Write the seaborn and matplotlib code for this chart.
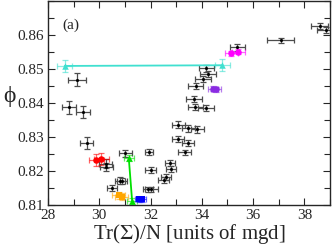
import numpy as np
import pandas as pd
import matplotlib
matplotlib.use("Agg")
import matplotlib.pyplot as plt
import seaborn as sns
from matplotlib.ticker import MultipleLocator

# black points: trace of the covariance per particle vs packing fraction
black_x = [28.82, 29.13, 29.37, 29.51, 30.25, 30.28, 30.50, 30.80, 30.89, 31.02,
           31.93, 32.00, 31.90, 32.03, 32.51, 32.59, 32.77, 32.80, 33.08, 33.48,
           33.83, 33.07, 33.46, 33.34, 33.70, 33.75, 34.16, 33.76, 34.05, 34.24,
           34.18, 35.39, 37.08, 38.60, 38.83]
black_y = [0.8387, 0.8469, 0.8374, 0.8283, 0.8222, 0.8211, 0.8149, 0.8172, 0.8170, 0.8252,
           0.8257, 0.8203, 0.8146, 0.8146, 0.8174, 0.8183, 0.8224, 0.8205, 0.8336, 0.8326,
           0.8323, 0.8294, 0.8283, 0.8255, 0.8413, 0.8387, 0.8386, 0.8450, 0.8471, 0.8485,
           0.8502, 0.8564, 0.8584, 0.8627, 0.8615]
black_xerr = [0.28, 0.35, 0.27, 0.25, 0.25, 0.25, 0.2, 0.2, 0.2, 0.25,
              0.15, 0.2, 0.2, 0.25, 0.2, 0.2, 0.2, 0.2, 0.25, 0.25,
              0.25, 0.25, 0.25, 0.25, 0.3, 0.3, 0.3, 0.3, 0.3, 0.3,
              0.3, 0.3, 0.52, 0.33, 0.33]
black_yerr = [0.0018, 0.002, 0.0017, 0.0017, 0.0012, 0.0012, 0.0009, 0.0009, 0.0009, 0.001,
              0.0009, 0.0009, 0.0008, 0.0008, 0.0009, 0.0009, 0.0009, 0.0009, 0.001, 0.001,
              0.001, 0.001, 0.0008, 0.0008, 0.0009, 0.0009, 0.0009, 0.0009, 0.0009, 0.0009,
              0.001, 0.001, 0.0007, 0.0008, 0.0008]

# coloured groups
groups = ["red", "orange", "green", "blue", "cyan", "purple", "magenta"]
group_x = {"red": [29.89, 30.08], "orange": [30.75, 30.88], "green": [31.15, 31.28],
           "blue": [31.55, 31.68], "cyan": [28.65, 34.80], "purple": [34.45, 34.55],
           "magenta": [35.15, 35.43]}
group_y = {"red": [0.8233, 0.8236], "orange": [0.8128, 0.8125], "green": [0.8239, 0.8113],
           "blue": [0.8117, 0.8117], "cyan": [0.8509, 0.8511], "purple": [0.8442, 0.8440],
           "magenta": [0.8546, 0.8551]}
group_xerr = {"red": 0.3, "orange": 0.25, "green": 0.2, "blue": 0.15, "cyan": 0.28,
              "purple": 0.2, "magenta": 0.25}
group_yerr = {"red": 0.0017, "orange": 0.001, "green": 0.0009, "blue": 0.0007,
              "cyan": 0.0017, "purple": 0.0008, "magenta": 0.0008}
colors = {"red": "#ff0000", "orange": "#ffa500", "green": "#00e000", "blue": "#0000ff",
          "cyan": "#40e0d0", "purple": "#8a2be2", "magenta": "#ff00ff"}
markers = {"red": "o", "orange": "s", "green": "^", "blue": "s", "cyan": "^",
           "purple": "o", "magenta": "o"}
connected = ["green", "cyan"]

sns.set_style("ticks")
plt.rcParams["font.family"] = ["Liberation Serif", "DejaVu Serif"]
plt.rcParams["mathtext.fontset"] = "stix"

fig = plt.figure(figsize=(3.32, 2.46), dpi=100)
ax = fig.add_axes([48 / 332, 1 - 205 / 246, 282 / 332, 204 / 246])

df_black = pd.DataFrame({"x": black_x, "y": black_y})
ax.errorbar(black_x, black_y, xerr=black_xerr, yerr=black_yerr, fmt="none",
            ecolor="0.3", elinewidth=0.9, capsize=2.5, capthick=0.9, zorder=2)
sns.scatterplot(data=df_black, x="x", y="y", color="black", s=5, marker="o",
                edgecolor="black", linewidth=0, ax=ax, zorder=3)

for g in groups:
    gx, gy = group_x[g], group_y[g]
    if g in connected:
        ax.plot(gx, gy, color=colors[g], lw=1.3, zorder=2)
    ax.errorbar(gx, gy, xerr=group_xerr[g], yerr=group_yerr[g], fmt="none",
                ecolor=colors[g], alpha=0.6, elinewidth=0.9, capsize=2.5, capthick=0.9, zorder=2)
    sns.scatterplot(x=gx, y=gy, color=colors[g], marker=markers[g], s=22,
                    linewidth=0, ax=ax, zorder=4)

ax.set_xlim(28, 39)
ax.set_ylim(0.81, 0.87)
ax.xaxis.set_major_locator(MultipleLocator(2))
ax.xaxis.set_minor_locator(MultipleLocator(1))
ax.yaxis.set_major_locator(MultipleLocator(0.01))
ax.yaxis.set_minor_locator(MultipleLocator(0.005))
ax.set_yticks([0.81, 0.82, 0.83, 0.84, 0.85, 0.86])
ax.tick_params(which="both", direction="in", top=True, right=True, labelsize=11,
               width=0.8, pad=3)
ax.tick_params(which="major", length=5)
ax.tick_params(which="minor", length=4)
for sp in ax.spines.values():
    sp.set_linewidth(1.0)
    sp.set_visible(True)

ax.set_xlabel(r"Tr($\Sigma$)/N [units of mgd]", fontsize=15, labelpad=0)
ax.set_ylabel("ϕ", fontsize=17, rotation=0, labelpad=2)
ax.yaxis.set_label_coords(-0.135, 0.48)
ax.text(0.05, 0.865, "(a)", transform=ax.transAxes, fontsize=11)

fig.savefig("out.png", dpi=100)
